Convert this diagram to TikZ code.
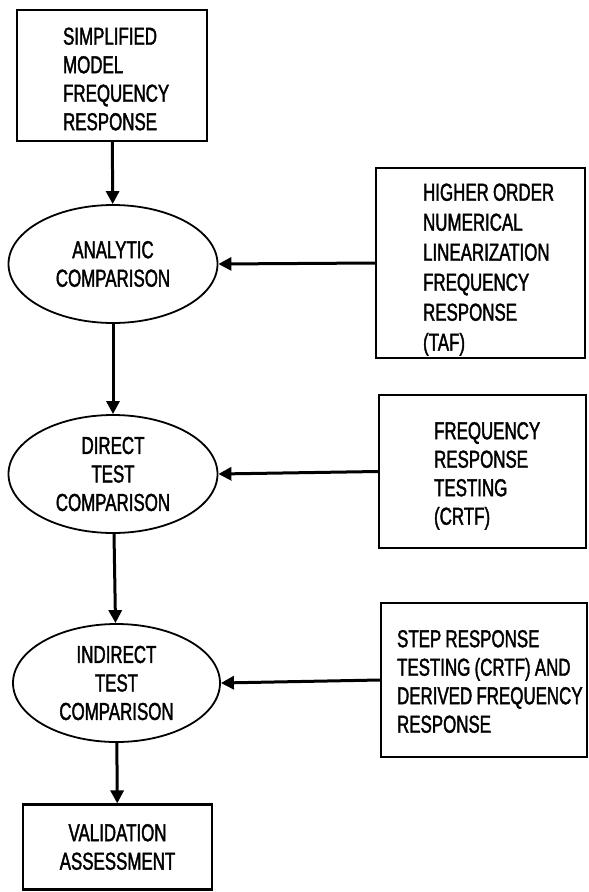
\documentclass[tikz,border=0pt]{standalone}
\usepackage{fontspec}
\setmainfont[FakeStretch=0.69,FakeBold=1.6,WordSpace=0.9]{Liberation Sans}
\usetikzlibrary{shapes.geometric,arrows.meta,positioning}

\tikzset{
	box/.style={draw,line width=2.2pt,rectangle,inner sep=0pt},
	boxtext/.style={align=left,inner sep=0pt},
	oval/.style={draw,line width=1.8pt,ellipse,align=center,inner sep=0pt,
		minimum height=118pt},
	flow/.style={line width=3pt,-{Triangle[length=13pt,width=13pt]}}
}

\begin{document}
\begin{tikzpicture}[x=1pt,y=-1pt,font=\fontsize{24.5}{28.5}\selectfont]
		\useasboundingbox (0,0) rectangle (589,892);
		% main chain down the left side
		\node[box,minimum width=190pt,minimum height=131pt] (model) at (112,75.5) {};
		\node[boxtext,below right=18.5pt and 47pt of model.north west] (modeltext)
			{SIMPLIFIED\\MODEL\\FREQUENCY\\RESPONSE};
		\node[oval,minimum width=209pt] (analytic) at (113,264) {ANALYTIC\\COMPARISON};
		\node[oval,minimum width=209pt] (direct) at (113,474) {DIRECT\\TEST\\COMPARISON};
		\node[oval,minimum width=207pt] (indirect) at (116.5,683) {INDIRECT\\TEST\\COMPARISON};
		\node[box,align=center,minimum width=189pt,minimum height=85pt] (valid) at (117.5,847)
			{VALIDATION\\ASSESSMENT};
		% inputs on the right
		\node[box,minimum width=209pt,minimum height=190pt] (taf) at (480.5,263) {};
		\node[boxtext,below right=16.5pt and 48pt of taf.north west,
			font=\fontsize{24.5}{30}\selectfont] (taftext)
			{HIGHER ORDER\\NUMERICAL\\LINEARIZATION\\FREQUENCY\\RESPONSE\\(TAF)};
		\node[box,minimum width=207pt,minimum height=153pt] (freqtest) at (482.5,471.5) {};
		\node[boxtext,below right=28pt and 56pt of freqtest.north west] (freqtesttext)
			{FREQUENCY\\RESPONSE\\TESTING\\(CRTF)};
		\node[box,minimum width=206pt,minimum height=154pt] (steptest) at (484,680) {};
		\node[boxtext,below right=28pt and 17pt of steptest.north west] (steptesttext)
			{STEP RESPONSE\\TESTING (CRTF) AND\\DERIVED FREQUENCY\\RESPONSE};
		% connectors
		\draw[flow] (model) -- (analytic);
		\draw[flow] (analytic) -- (direct);
		\draw[flow] (direct) -- (indirect);
		\draw[flow] (indirect) -- (valid);
		\draw[flow] (taf.west) -- (analytic.east);
		\draw[flow] (freqtest.west) -- (direct.east);
		\draw[flow] (steptest.west) -- (indirect.east);
	\end{tikzpicture}
\end{document}
